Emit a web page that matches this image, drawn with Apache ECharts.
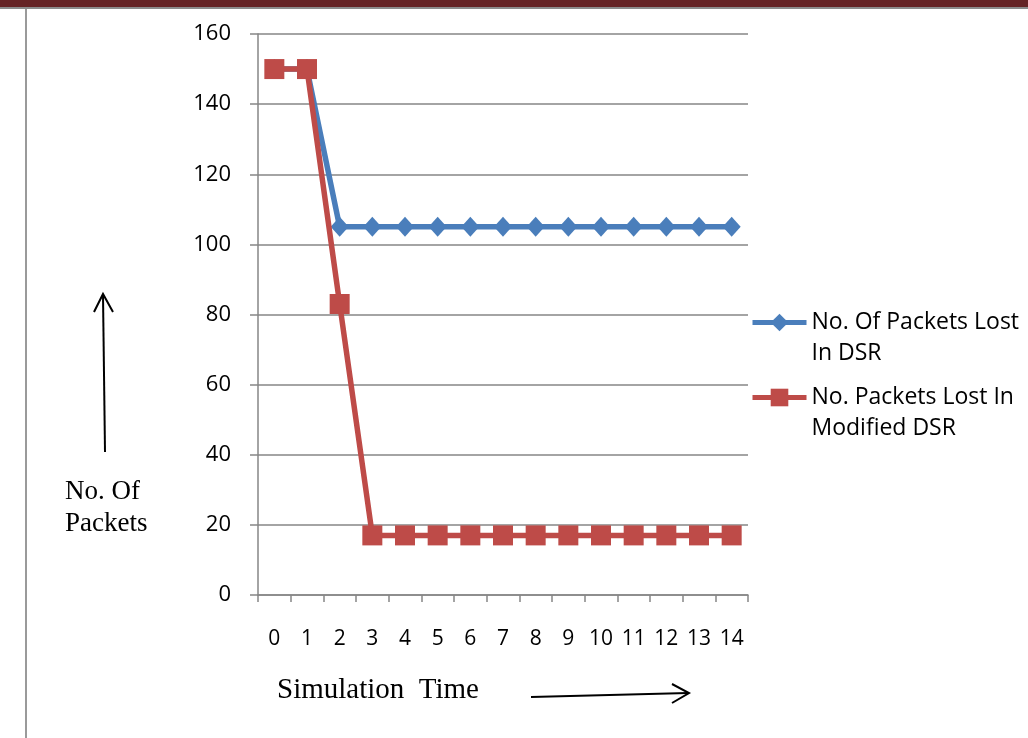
<!DOCTYPE html>
<html>
<head>
<meta charset="utf-8">
<script src="https://cdn.jsdelivr.net/npm/echarts@6/dist/echarts.min.js"></script>
<style>
html,body{margin:0;padding:0;background:#fff;}
#chart{width:1028px;height:738px;}
</style>
</head>
<body>
<div id="chart"></div>
<script>
const categories = ['0','1','2','3','4','5','6','7','8','9','10','11','12','13','14'];
const dsrLost = [150,150,105,105,105,105,105,105,105,105,105,105,105,105,105];
const modifiedDsrLost = [150,150,83,17,17,17,17,17,17,17,17,17,17,17,17];
const seriesNames = ['No. Of Packets Lost\nIn DSR', 'No. Packets Lost In\nModified DSR'];
const yTicks = {min:0, max:160, interval:20};

const chart = echarts.init(document.getElementById('chart'), null, {renderer:'canvas'});
const labelFont = '"Open Sans", Lato, sans-serif';
const serif = '"Liberation Serif", "DejaVu Serif", serif';
chart.setOption({
  backgroundColor:'#fff',
  animation:false,
  grid:{left:258, top:34, width:490, height:561},
  legend:{
    orient:'vertical', left:745, top:271, itemWidth:54, itemHeight:22, itemGap:-18,
    formatter:function(n){return '\n'+n;},
    lineStyle:{width:5},
    textStyle:{fontFamily:labelFont, fontSize:23, color:'#000', lineHeight:31},
    data:seriesNames
  },
  xAxis:{
    type:'category', data:categories, boundaryGap:true,
    axisLine:{lineStyle:{color:'#868686', width:1.5}},
    axisTick:{show:true, length:7, lineStyle:{color:'#868686', width:1.5}},
    axisLabel:{fontFamily:labelFont, fontSize:21, color:'#000', margin:34, interval:0}
  },
  yAxis:{
    type:'value', min:yTicks.min, max:yTicks.max, interval:yTicks.interval,
    axisLine:{show:true, lineStyle:{color:'#868686', width:1.5}},
    axisTick:{show:true, length:8, lineStyle:{color:'#868686', width:1.5}},
    splitLine:{lineStyle:{color:'#868686', width:1.5}},
    axisLabel:{fontFamily:labelFont, fontSize:22, color:'#000', margin:27, padding:[4,0,0,0]}
  },
  series:[
    {name:seriesNames[0], type:'line', data:dsrLost, symbol:'diamond', symbolSize:[18,20],
     lineStyle:{color:'#4a7ebb', width:5.5}, itemStyle:{color:'#4a7ebb'}, z:2},
    {name:seriesNames[1], type:'line', data:modifiedDsrLost, symbol:'rect', symbolSize:[20,20],
     lineStyle:{color:'#be4b48', width:5.5}, itemStyle:{color:'#be4b48'}, z:3}
  ],
  graphic:[
    {type:'rect', shape:{x:0,y:0,width:1028,height:7}, style:{fill:'#652325'}},
    {type:'rect', shape:{x:0,y:7,width:1028,height:2}, style:{fill:'#8c8c8c'}},
    {type:'rect', shape:{x:25,y:9,width:2,height:729}, style:{fill:'#9a9a9a'}},
    {type:'text', left:65, top:476, style:{text:'No. Of\nPackets', font:'27px '+serif, lineHeight:32, fill:'#000'}},
    {type:'line', shape:{x1:105,y1:452,x2:103,y2:295}, style:{stroke:'#000', lineWidth:2}},
    {type:'polyline', shape:{points:[[94,312],[103,294],[113,312]]}, style:{stroke:'#000', lineWidth:2, fill:null}},
    {type:'text', left:277, top:676, style:{text:'Simulation  Time', font:'29px '+serif, fill:'#000'}},
    {type:'line', shape:{x1:531,y1:697,x2:688,y2:693}, style:{stroke:'#000', lineWidth:2}},
    {type:'polyline', shape:{points:[[672,684],[689,693],[672,703]]}, style:{stroke:'#000', lineWidth:2, fill:null}}
  ]
});
</script>
</body>
</html>
